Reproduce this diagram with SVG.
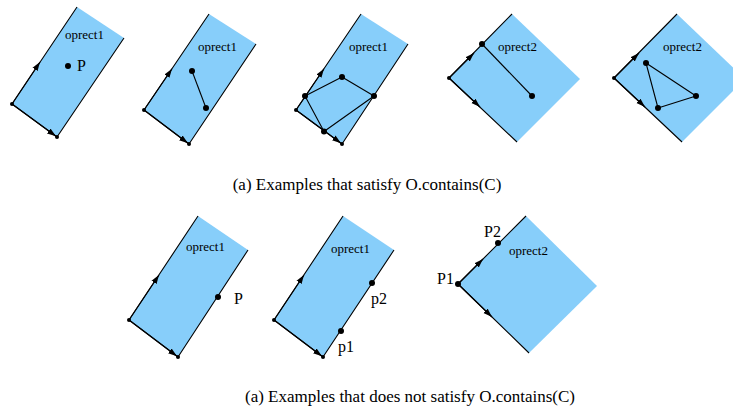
<svg xmlns="http://www.w3.org/2000/svg" width="733" height="411" viewBox="0 0 733 411">
<style>
.rect{fill:#87CEFA;stroke:none}
.edge{fill:none;stroke:#000;stroke-width:1.1;stroke-linejoin:round}
.arr{fill:none;stroke:#000;stroke-width:1.1;marker-end:url(#ah)}
.lbl{font-family:"Liberation Serif","Times New Roman",serif;font-size:13px;fill:#000}
.pl{font-family:"Liberation Serif","Times New Roman",serif;font-size:16px;fill:#000}
.cap{font-family:"Liberation Serif","Times New Roman",serif;font-size:17px;fill:#000;text-anchor:middle}
.d{fill:#000}
</style>
<defs>
<marker id="ah" markerUnits="userSpaceOnUse" markerWidth="10" markerHeight="7" viewBox="0 0 10 7" refX="9" refY="3.5" orient="auto">
<path d="M0,0.5 L9,3.5 L0,6.5 z" fill="#000"/>
</marker>
</defs>

<g id="panel1">
<polygon class="rect" points="12,104 77,7 124,38 57,137"/>
<polyline class="edge" points="77,7 12,104 57,137 124,38"/>
<path class="arr" d="M12,104 L40,62"/>
<path class="arr" d="M12,104 L56,136.3"/>
<circle class="d" cx="12" cy="104" r="2"/>
<circle class="d" cx="57" cy="137" r="2"/>
<circle class="d" cx="68" cy="66" r="3"/>
<text class="lbl" x="65" y="39">oprect1</text>
<text class="pl" x="77" y="71">P</text>
</g>

<g id="panel2">
<polygon class="rect" points="144,110 209,14 256,44 189,144"/>
<polyline class="edge" points="209,14 144,110 189,144 256,44"/>
<path class="arr" d="M144,110 L172,68.7"/>
<path class="arr" d="M144,110 L188,143.2"/>
<circle class="d" cx="144" cy="110" r="2"/>
<circle class="d" cx="189" cy="144" r="2"/>
<polyline class="edge" points="192,71 206,108"/>
<circle class="d" cx="192" cy="71" r="3"/>
<circle class="d" cx="206" cy="108" r="3"/>
<text class="lbl" x="198" y="51">oprect1</text>
</g>

<g id="panel3">
<polygon class="rect" points="296,110 361,14 408,44 342,144"/>
<polyline class="edge" points="361,14 296,110 342,144 408,44"/>
<path class="arr" d="M296,110 L324,68.7"/>
<path class="arr" d="M296,110 L341,143.2"/>
<polygon class="edge" points="305,96 342,77 374,96 324,131.5"/>
<circle class="d" cx="296" cy="110" r="2"/>
<circle class="d" cx="342" cy="144" r="2"/>
<circle class="d" cx="305" cy="96" r="3"/>
<circle class="d" cx="342" cy="77" r="3"/>
<circle class="d" cx="374" cy="96" r="3"/>
<circle class="d" cx="324" cy="131.5" r="3"/>
<text class="lbl" x="349" y="51">oprect1</text>
</g>

<g id="panel4">
<polygon class="rect" points="449,78 512,14 580,79 517,142"/>
<polyline class="edge" points="512,14 449,78 517,142"/>
<path class="arr" d="M449,78 L474,53"/>
<path class="arr" d="M449,78 L480,107"/>
<polyline class="edge" points="482,44 532,96"/>
<circle class="d" cx="449" cy="78" r="2"/>
<circle class="d" cx="482" cy="44" r="3"/>
<circle class="d" cx="532" cy="96" r="3"/>
<text class="lbl" x="498" y="51">oprect2</text>
</g>

<g id="panel5">
<polygon class="rect" points="614,78 677,14 745,79 682,142"/>
<polyline class="edge" points="677,14 614,78 682,142"/>
<path class="arr" d="M614,78 L639,53"/>
<path class="arr" d="M614,78 L645,107"/>
<polygon class="edge" points="646,63 696,96 658,108"/>
<circle class="d" cx="614" cy="78" r="2"/>
<circle class="d" cx="646" cy="63" r="3"/>
<circle class="d" cx="696" cy="96" r="3"/>
<circle class="d" cx="658" cy="108" r="3"/>
<text class="lbl" x="663" y="51">oprect2</text>
</g>

<text class="cap" x="367" y="190">(a) Examples that satisfy O.contains(C)</text>

<g id="panel6">
<polygon class="rect" points="129,320 198,216 248,250 178,357"/>
<polyline class="edge" points="198,216 129,320 178,357 248,250"/>
<path class="arr" d="M129,320 L159,275"/>
<path class="arr" d="M129,320 L177,356.2"/>
<circle class="d" cx="129" cy="320" r="2"/>
<circle class="d" cx="178" cy="357" r="2"/>
<circle class="d" cx="218" cy="297" r="3"/>
<text class="lbl" x="186" y="251">oprect1</text>
<text class="pl" x="234" y="304">P</text>
</g>

<g id="panel7">
<polygon class="rect" points="274,320 343,216 394,250 323,357"/>
<polyline class="edge" points="343,216 274,320 323,357 394,250"/>
<path class="arr" d="M274,320 L304,275"/>
<path class="arr" d="M274,320 L322,356.2"/>
<circle class="d" cx="274" cy="320" r="2"/>
<circle class="d" cx="323" cy="357" r="2"/>
<circle class="d" cx="372" cy="283" r="3"/>
<circle class="d" cx="341" cy="331" r="3"/>
<text class="lbl" x="331" y="253">oprect1</text>
<text class="pl" x="371" y="304">p2</text>
<text class="pl" x="338" y="352">p1</text>
</g>

<g id="panel8">
<polygon class="rect" points="458,284 526,216 597,286 529,353"/>
<polyline class="edge" points="526,216 458,284 529,353"/>
<path class="arr" d="M458,284 L483,259"/>
<path class="arr" d="M458,284 L492,317"/>
<circle class="d" cx="458" cy="284" r="3"/>
<circle class="d" cx="498" cy="243" r="3"/>
<text class="lbl" x="509" y="255">oprect2</text>
<text class="pl" x="484" y="237">P2</text>
<text class="pl" x="437" y="284">P1</text>
</g>

<text class="cap" x="410" y="402">(a) Examples that does not satisfy O.contains(C)</text>
</svg>
